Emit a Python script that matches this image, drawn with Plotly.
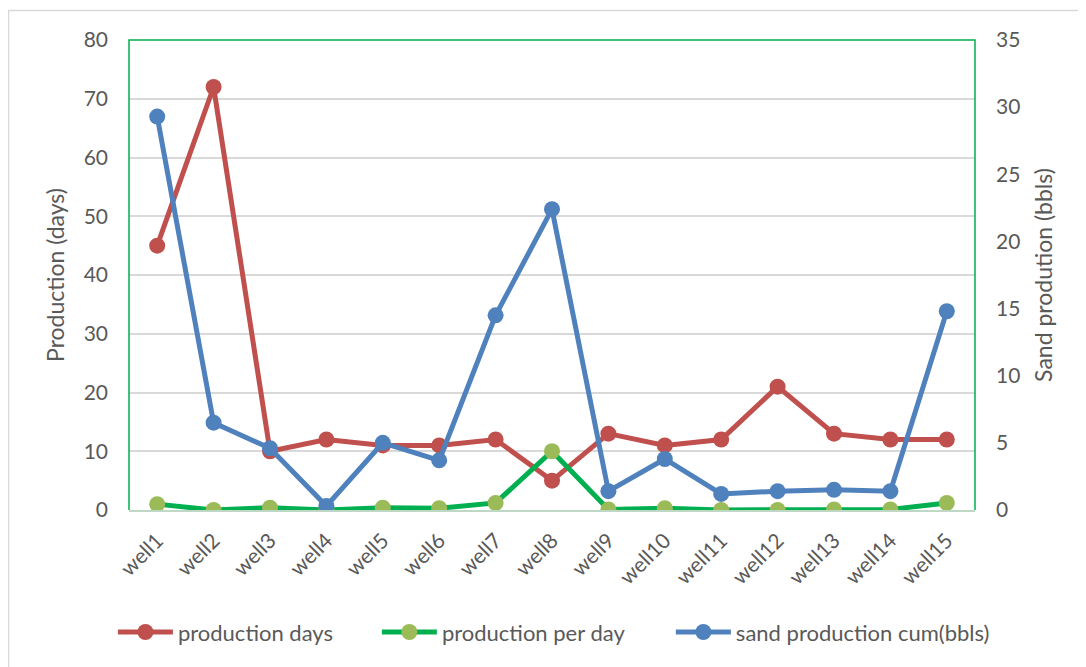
import plotly.graph_objects as go

wells = ["well1", "well2", "well3", "well4", "well5", "well6", "well7", "well8",
         "well9", "well10", "well11", "well12", "well13", "well14", "well15"]
production_days = [45, 72, 10, 12, 11, 11, 12, 5, 13, 11, 12, 21, 13, 12, 12]
production_per_day = [1.0, 0.0, 0.4, 0.0, 0.4, 0.3, 1.2, 10.0, 0.1, 0.3, 0.0, 0.0, 0.1, 0.1, 1.2]
sand_cum = [29.3, 6.5, 4.6, 0.3, 5.0, 3.7, 14.5, 22.4, 1.4, 3.8, 1.2, 1.4, 1.5, 1.4, 14.8]

FONT = "Lato, Calibri, 'Noto Sans', sans-serif"
GREY = "#595959"

fig = go.Figure()
fig.add_trace(go.Scatter(
    x=wells, y=production_days, name="production days", mode="lines+markers",
    line=dict(color="#C0504D", width=5), marker=dict(color="#C0504D", size=16),
    yaxis="y", legend="legend"))
fig.add_trace(go.Scatter(
    x=wells, y=production_per_day, name="production per day", mode="lines+markers",
    line=dict(color="#00B050", width=5), marker=dict(color="#9BBB59", size=16),
    yaxis="y", legend="legend2"))
fig.add_trace(go.Scatter(
    x=wells, y=sand_cum, name="sand production cum(bbls)", mode="lines+markers",
    line=dict(color="#4F81BD", width=5), marker=dict(color="#4F81BD", size=16),
    yaxis="y2", legend="legend3"))

leg_common = dict(orientation="h", y=-0.26, yanchor="middle", xanchor="left",
                  font=dict(size=22, color=GREY), itemwidth=55,
                  bgcolor="rgba(0,0,0,0)")

fig.update_layout(
    width=1086, height=667,
    margin=dict(l=121, r=119, t=32, b=165, autoexpand=False),
    paper_bgcolor="white", plot_bgcolor="white",
    font=dict(family=FONT, color=GREY, size=20),
    showlegend=True,
    legend=dict(x=-0.019, **leg_common),
    legend2=dict(x=0.293, **leg_common),
    legend3=dict(x=0.6405, **leg_common),
    xaxis=dict(type="category", range=[-0.5, 14.5], tickangle=-45,
               tickfont=dict(size=21, color=GREY), showgrid=False,
               showline=True, linecolor="#BFD8C6", linewidth=2, ticks="",
               ticklabelstandoff=8,
               zeroline=False, automargin=False),
    yaxis=dict(range=[0, 80], dtick=10, showgrid=True, gridcolor="#D9D9D9", gridwidth=2,
               zeroline=False, showline=False, ticks="", automargin=False,
               tickfont=dict(size=21, color=GREY), ticklabelstandoff=20,
               title=dict(text="Production (days)", font=dict(size=23, color=GREY), standoff=12)),
    yaxis2=dict(range=[0, 35], dtick=5, overlaying="y", side="right", showgrid=False,
                zeroline=False, showline=False, ticks="", automargin=False,
                tickfont=dict(size=21, color=GREY), ticklabelstandoff=20,
                title=dict(text="Sand prodution (bbls)", font=dict(size=23, color=GREY), standoff=16)),
    shapes=[
        dict(type="rect", xref="paper", yref="paper", x0=-0.1424, x1=1.2, y0=-0.4, y1=1.0628,
             line=dict(color="#D9D9D9", width=1.5), fillcolor="rgba(0,0,0,0)", layer="below"),
        dict(type="path", xref="paper", yref="paper",
             path="M 0 0 L 0 1 L 1 1 L 1 0",
             line=dict(color="#00B050", width=1.5), layer="above"),
    ],
)

fig.write_html("out.html")
